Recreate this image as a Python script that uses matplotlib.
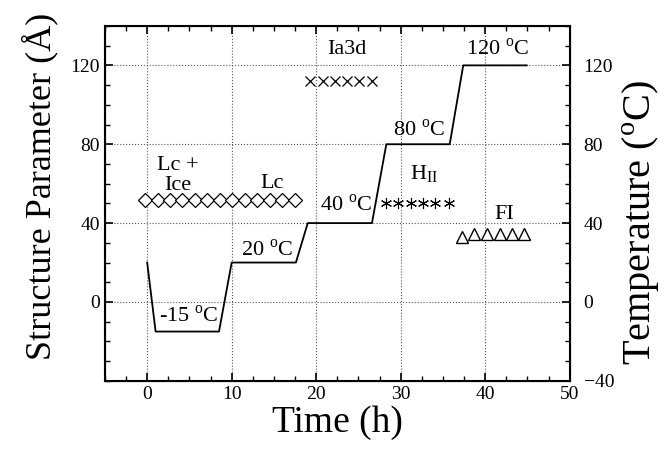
#!/usr/bin/env python3
import matplotlib
matplotlib.use("Agg")
import matplotlib.pyplot as plt
import matplotlib.ticker as ticker

plt.rcParams['font.family'] = ['Liberation Serif', 'DejaVu Serif']
plt.rcParams['mathtext.fontset'] = 'custom'
plt.rcParams['mathtext.rm'] = 'Liberation Serif'

# temperature programme (h, degC)
temp_t = [0, 1.0, 8.5, 10, 17.6, 19.0, 26.6, 28.3, 35.8, 37.4, 44.9]
temp_T = [20, -15, -15, 20, 20, 40, 40, 80, 80, 120, 120]

# structure parameters (h, Angstrom)
lc_t = [-0.2, 1.26, 2.68, 4.15, 5.65, 7.1, 8.6, 10.08, 11.6, 13.0, 14.5, 16.0, 17.5]
lc_d = [51.5] * 13
ice_t = [0, 10]
ice_d = [51.5, 51.5]
ia3d_t = [19.3, 20.8, 22.2, 23.7, 25.1, 26.6]
ia3d_d = [112, 112, 112, 112, 112, 112]
hii_t = [28.3, 29.7, 31.2, 32.6, 34.1, 35.7]
hii_d = [50.2, 50.2, 50.2, 50.2, 50.2, 50.2]
fi_t = [37.2, 38.7, 40.2, 41.7, 43.2, 44.6]
fi_d = [33, 34.5, 34.5, 34.5, 34.5, 34.5]

fig = plt.figure(figsize=(6.64, 4.55), dpi=100)
ax = fig.add_axes([0.158, 0.163, 0.700, 0.780])

ax.plot(temp_t, temp_T, c='k', lw=1.3)
ax.plot(ice_t, ice_d, c='k', lw=0.9)
ax.plot(lc_t, lc_d, ls='none', marker='D', ms=7, mfc='white', mec='k', mew=0.9)
ax.plot(ia3d_t, ia3d_d, ls='none', marker='x', ms=7.5, mec='k', mew=0.9)
ax.plot(hii_t, hii_d, ls='none', marker=(6, 2, 0), ms=8, mec='k', mew=0.8)
ax.plot(fi_t, fi_d, ls='none', marker='^', ms=8, mfc='white', mec='k', mew=1.0)

ax.set_xlim(-5, 50)
ax.set_ylim(-40, 140)
ax.xaxis.set_major_locator(ticker.MultipleLocator(10))
ax.xaxis.set_minor_locator(ticker.MultipleLocator(2.5))
ax.set_yticks([0, 40, 80, 120])
ax.yaxis.set_minor_locator(ticker.MultipleLocator(10))
ax.grid(True, which='major', ls=':', c='0.35', lw=0.8)
ax.tick_params(which='both', direction='in', top=True, labelsize=14)
ax.tick_params(which='major', length=6, width=1.2)
ax.tick_params(which='minor', length=3.5, width=1.0)
for s in ax.spines.values():
    s.set_linewidth(1.5)

ax2 = ax.twinx()
ax2.set_ylim(-40, 140)
ax2.set_yticks([-40, 0, 40, 80, 120])
ax2.yaxis.set_minor_locator(ticker.MultipleLocator(10))
ax2.tick_params(which='both', direction='in', labelsize=14)
ax2.tick_params(which='major', length=6, width=1.2, pad=10)
ax2.tick_params(which='minor', length=3.5, width=1.0)

ax.set_xlabel('Time (h)', fontsize=27, labelpad=2)
ax.set_ylabel('Structure Parameter (Å)', fontsize=26, labelpad=9)
ax.yaxis.label.set_y(0.549)
ax2.set_ylabel('Temperature ($^\\mathregular{o}$C)', fontsize=29, labelpad=4)
ax2.yaxis.label.set_y(0.445)

fs = 16
deg = '$^\\mathregular{o}$C'
ax.text(3.6, 69, 'Lc +', fontsize=fs, ha='center', va='center')
ax.text(3.6, 59, 'Ice', fontsize=fs, ha='center', va='center')
ax.text(14.8, 60, 'Lc', fontsize=fs, ha='center', va='center')
ax.text(23.6, 128, 'Ia3d', fontsize=fs, ha='center', va='center')
ax.text(41.5, 128, '120 ' + deg, fontsize=fs, ha='center', va='center')
ax.text(32.2, 87, '80 ' + deg, fontsize=fs, ha='center', va='center')
ax.text(23.5, 49, '40 ' + deg, fontsize=fs, ha='center', va='center')
ax.text(14.2, 26, '20 ' + deg, fontsize=fs, ha='center', va='center')
ax.text(4.9, -7.5, '-15 ' + deg, fontsize=fs, ha='center', va='center')
ax.text(32.8, 65, 'H$_\\mathregular{II}$', fontsize=fs, ha='center', va='center')
ax.text(42.3, 44.5, 'FI', fontsize=fs, ha='center', va='center')

fig.savefig('out.png', dpi=100)
